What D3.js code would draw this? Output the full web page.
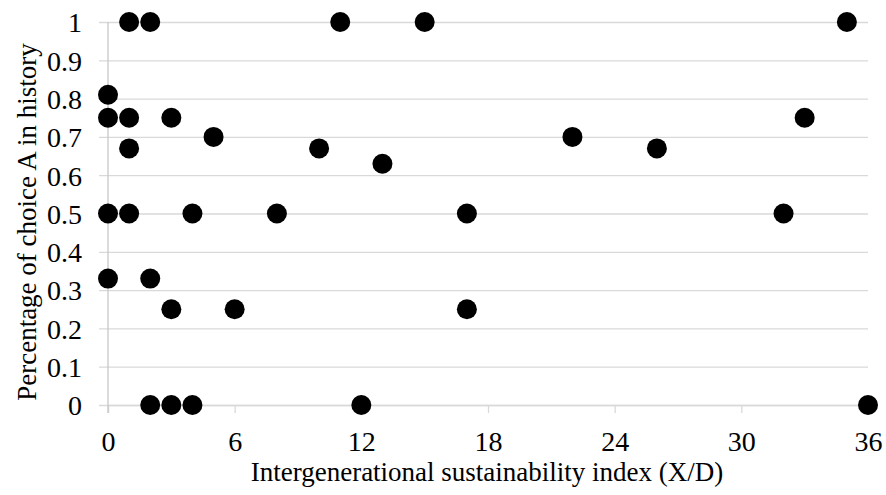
<!DOCTYPE html>
<html>
<head>
<meta charset="utf-8">
<script src="https://cdn.jsdelivr.net/npm/d3@7"></script>
<style>
  body { margin: 0; background: #fff; }
</style>
</head>
<body>
<script>
// data
const xValues = [1, 2, 11, 15, 35, 0, 0, 1, 3, 33, 5, 22, 1, 10, 26, 13, 0, 1, 4, 8, 17, 32, 0, 2, 3, 6, 17, 2, 3, 4, 12, 36];
const yValues = [1, 1, 1, 1, 1, 0.81, 0.75, 0.75, 0.75, 0.75, 0.7, 0.7, 0.67, 0.67, 0.67, 0.63, 0.5, 0.5, 0.5, 0.5, 0.5, 0.5, 0.33, 0.33, 0.25, 0.25, 0.25, 0, 0, 0, 0, 0];
const xTicks = [0, 6, 12, 18, 24, 30, 36];
const yTicks = [0, 0.1, 0.2, 0.3, 0.4, 0.5, 0.6, 0.7, 0.8, 0.9, 1];
const xTitle = 'Intergenerational sustainability index (X/D)';
const yTitle = 'Percentage of choice A in history';

const font = "'Times New Roman', Times, 'Liberation Serif', 'DejaVu Serif', serif";
const width = 886;
const height = 495;
const margin = { top: 22, left: 108, bottom: 90, right: 18 };

const svg = d3.select('body').append('svg').attr('width', width).attr('height', height);

const x = d3.scaleLinear().domain([0, 36]).range([margin.left, width - margin.right]);
const y = d3.scaleLinear().domain([0, 1]).range([height - margin.bottom, margin.top]);

// gridlines + y axis
const yAxis = (g) =>
  g
    .attr('transform', `translate(${margin.left}, 0)`)
    .call(d3.axisLeft(y).tickValues(yTicks).tickFormat(d3.format('')).tickSize(-(width - margin.right - margin.left)).tickPadding(26))
    .attr('font-family', font)
    .call((g) => g.select('.domain').remove())
    .call((g) => g.selectAll('.tick line').attr('stroke', '#d9d9d9').attr('stroke-width', 1.3).attr('x1', -9))
    .call((g) => g.selectAll('.tick text').attr('font-size', '28px').attr('fill', '#000').attr('dy', '0.35em'));

const xAxis = (g) =>
  g
    .attr('transform', `translate(0, ${height - margin.bottom})`)
    .call(d3.axisBottom(x).tickValues(xTicks).tickSize(8).tickPadding(18))
    .attr('font-family', font)
    .call((g) => g.select('.domain').attr('stroke', '#d9d9d9').attr('stroke-width', 1.3))
    .call((g) => g.selectAll('.tick line').attr('stroke', '#d9d9d9').attr('stroke-width', 1.3))
    .call((g) => g.selectAll('.tick text').attr('font-size', '28px').attr('fill', '#000'));

svg.append('g').call(yAxis);
svg.append('g').call(xAxis);

// vertical axis line
svg
  .append('line')
  .attr('x1', x(0))
  .attr('x2', x(0))
  .attr('y1', y(1))
  .attr('y2', y(0) + 8)
  .attr('stroke', '#c8c8c8')
  .attr('stroke-width', 1.3);

// points
svg
  .append('g')
  .selectAll('circle')
  .data(xValues.map((d, i) => ({ x: d, y: yValues[i] })))
  .enter()
  .append('circle')
  .attr('cx', (d) => x(d.x))
  .attr('cy', (d) => y(d.y))
  .attr('r', 10)
  .attr('fill', '#000');

// titles
svg
  .append('text')
  .text(xTitle)
  .attr('x', 487)
  .attr('y', 481)
  .attr('font-family', font)
  .attr('font-size', '27px')
  .attr('text-anchor', 'middle');

svg
  .append('text')
  .text(yTitle)
  .attr('transform', `translate(36, 222) rotate(-90)`)
  .attr('font-family', font)
  .attr('font-size', '27px')
  .attr('text-anchor', 'middle');
</script>
</body>
</html>
